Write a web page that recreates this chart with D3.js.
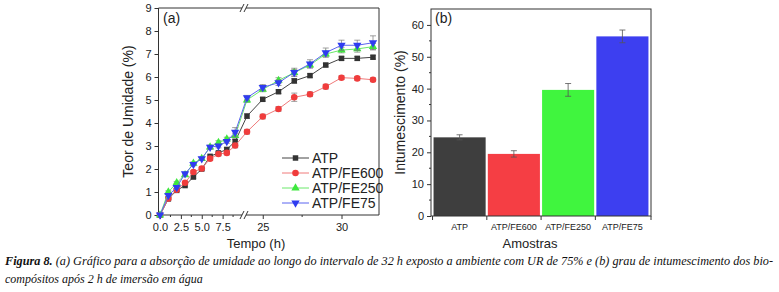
<!DOCTYPE html>
<html lang="pt">
<head>
<meta charset="utf-8">
<title>Figura 8</title>
<script src="https://d3js.org/d3.v7.min.js"></script>
<style>
  body { margin: 0; background: #fff; }
  svg text { font-family: "Liberation Sans", Arial, sans-serif; fill: #222; }
  .tick text { font-size: 11px; }
  .tick line, .axis path { stroke: #333; }
  .caption text { font-family: "Liberation Serif", "Times New Roman", serif; font-style: italic; font-size: 12px; fill: #111; }
</style>
</head>
<body>
<svg id="fig" width="779" height="292"></svg>
<script>
// (a) moisture uptake, hours
const hours = [0, 1, 2, 3, 4, 5, 6, 7, 8, 9, 24, 25, 26, 27, 28, 29, 30, 31, 32];
const atp    = [0, 0.70, 1.07, 1.28, 1.65, 2.00, 2.55, 2.70, 2.85, 3.20, 4.30, 5.03, 5.36, 5.83, 6.06, 6.52, 6.81, 6.81, 6.86];
const fe600  = [0, 0.72, 1.10, 1.40, 1.87, 2.02, 2.45, 2.65, 2.70, 3.02, 3.62, 4.28, 4.61, 5.12, 5.25, 5.58, 5.97, 5.94, 5.88];
const fe250  = [0, 1.00, 1.40, 1.75, 2.25, 2.45, 2.95, 3.15, 3.30, 3.45, 5.00, 5.46, 5.85, 6.19, 6.52, 7.00, 7.17, 7.22, 7.32];
const fe75   = [0, 0.85, 1.20, 1.80, 2.20, 2.45, 2.95, 3.00, 3.20, 3.60, 5.10, 5.55, 5.75, 6.20, 6.57, 7.06, 7.38, 7.38, 7.49];
const errA   = [0, 0.05, 0.05, 0.05, 0.05, 0.06, 0.06, 0.06, 0.08, 0.08, 0.10, 0.08, 0.08, 0.10, 0.08, 0.08, 0.08, 0.08, 0.08];
const errB   = [0, 0.05, 0.05, 0.06, 0.06, 0.06, 0.08, 0.08, 0.08, 0.10, 0.10, 0.10, 0.10, 0.18, 0.10, 0.10, 0.08, 0.08, 0.08];
const errC   = [0, 0.05, 0.05, 0.06, 0.06, 0.06, 0.08, 0.08, 0.08, 0.10, 0.10, 0.10, 0.12, 0.14, 0.12, 0.12, 0.12, 0.14, 0.14];
const errD   = [0, 0.05, 0.05, 0.06, 0.06, 0.06, 0.08, 0.08, 0.08, 0.20, 0.10, 0.12, 0.12, 0.18, 0.18, 0.20, 0.22, 0.22, 0.30];
const seriesNames  = ["ATP", "ATP/FE600", "ATP/FE250", "ATP/FE75"];
const seriesColors = ["#333333", "#f03c3c", "#3ee83e", "#2f3cf0"];
const lineColors   = ["#444444", "#f07a7a", "#6be86b", "#5a64f0"];
const markers      = ["square", "circle", "triangle", "triangleDown"];

// (b) swelling after 2 h
const samples  = ["ATP", "ATP/FE600", "ATP/FE250", "ATP/FE75"];
const swelling = [24.7, 19.5, 39.6, 56.4];
const swellErr = [0.8, 1.0, 2.0, 2.0];
const barColors = ["#3e3e3e", "#f53e44", "#40f53e", "#3d3ff0"];

const svg = d3.select("#fig");

// ---------- panel (a) ----------
const aLeft = 158.5, aRight = 379, aTop = 8, aBottom = 215, brk = 244;
const y = d3.scaleLinear().domain([0, 9]).range([aBottom, aTop]);
const x1 = d3.scaleLinear().domain([0, 10]).range([160, 243.5]);
const x2 = d3.scaleLinear().domain([24, 32]).range([247, 373]);
const x = h => h <= 12 ? x1(h) : x2(h);

const ga = svg.append("g");

// frame: left, top, right, bottom (with break)
ga.append("line").attr("x1", aLeft).attr("x2", aLeft).attr("y1", aTop).attr("y2", aBottom).attr("stroke", "#333");
ga.append("line").attr("x1", aRight).attr("x2", aRight).attr("y1", aTop).attr("y2", aBottom).attr("stroke", "#333");
[aTop, aBottom].forEach(yy => {
  ga.append("line").attr("x1", aLeft).attr("x2", brk - 2).attr("y1", yy).attr("y2", yy).attr("stroke", "#333");
  ga.append("line").attr("x1", brk + 2).attr("x2", aRight).attr("y1", yy).attr("y2", yy).attr("stroke", "#333");
  [-2, 2].forEach(dx => {
    ga.append("line").attr("x1", brk + dx - 2).attr("x2", brk + dx + 2)
      .attr("y1", yy + 4).attr("y2", yy - 4).attr("stroke", "#333");
  });
});

const yAxisA = ga.append("g").attr("class", "axis")
  .attr("transform", `translate(${aLeft},0)`)
  .call(d3.axisLeft(y).ticks(9).tickSize(4).tickSizeOuter(0).tickPadding(3));
yAxisA.select(".domain").remove();

const xa1 = ga.append("g").attr("class", "axis")
  .attr("transform", `translate(0,${aBottom})`)
  .call(d3.axisBottom(x1).tickValues([0, 2.5, 5, 7.5]).tickFormat(d3.format(".1f")).tickSize(4).tickPadding(4));
xa1.select(".domain").remove();
const xa2 = ga.append("g").attr("class", "axis")
  .attr("transform", `translate(0,${aBottom})`)
  .call(d3.axisBottom(x2).tickValues([25, 30]).tickSize(4).tickPadding(4));
xa2.select(".domain").remove();
// minor ticks
ga.selectAll(".minx").data([1.25, 3.75, 6.25, 8.75].map(x1).concat([27.5, 32.5].map(x2)).filter(v => v < aRight))
  .join("line").attr("x1", d => d).attr("x2", d => d)
  .attr("y1", aBottom).attr("y2", aBottom + 2).attr("stroke", "#333");

const seriesData = [atp, fe600, fe250, fe75];
const errData = [errA, errB, errC, errD];

const line = d3.line().x((d, i) => x(hours[i])).y(d => y(d));

const symbolFor = m => ({
  square: d3.symbol().type(d3.symbolSquare).size(30),
  circle: d3.symbol().type(d3.symbolCircle).size(34),
  triangle: d3.symbol().type(d3.symbolTriangle).size(30),
  triangleDown: d3.symbol().type(d3.symbolTriangle).size(30)
})[m];

seriesData.forEach((vals, s) => {
  const g = ga.append("g");
  g.append("path").datum(vals).attr("d", line)
    .attr("fill", "none").attr("stroke", lineColors[s]).attr("stroke-width", 1);
  // error bars
  vals.forEach((v, i) => {
    const e = errData[s][i];
    if (!e) return;
    const cx = x(hours[i]);
    g.append("path")
      .attr("d", `M${cx},${y(v - e)}V${y(v + e)}M${cx - 3},${y(v - e)}H${cx + 3}M${cx - 3},${y(v + e)}H${cx + 3}`)
      .attr("stroke", "#777").attr("stroke-width", 0.7).attr("fill", "none");
  });
  g.selectAll(".m").data(vals).join("path")
    .attr("d", symbolFor(markers[s]))
    .attr("transform", (d, i) => `translate(${x(hours[i])},${y(d)})` + (markers[s] === "triangleDown" ? " rotate(180)" : ""))
    .attr("fill", seriesColors[s]);
});

// legend
seriesNames.forEach((n, s) => {
  const ly = 158 + s * 15;
  ga.append("line").attr("x1", 282).attr("x2", 309).attr("y1", ly).attr("y2", ly)
    .attr("stroke", lineColors[s]).attr("stroke-width", 1);
  ga.append("path").attr("d", symbolFor(markers[s]))
    .attr("transform", `translate(295.5,${ly})` + (markers[s] === "triangleDown" ? " rotate(180)" : ""))
    .attr("fill", seriesColors[s]);
  ga.append("text").attr("x", 312).attr("y", ly + 5).attr("font-size", 14).text(n);
});

ga.append("text").attr("x", 163).attr("y", 23).attr("font-size", 14).text("(a)");
ga.append("text").attr("x", 256).attr("y", 248).attr("text-anchor", "middle").attr("font-size", 13).text("Tempo (h)");
ga.append("text").attr("transform", `translate(133,${(aTop + aBottom) / 2}) rotate(-90)`)
  .attr("text-anchor", "middle").attr("font-size", 14).text("Teor de Umidade (%)");

// ---------- panel (b) ----------
const bLeft = 431, bRight = 651, bTop = 9, bBottom = 216;
const yb = d3.scaleLinear().domain([0, 65]).range([bBottom, bTop]);
const xb = d3.scaleBand().domain(samples).range([bLeft + 2, bRight - 2]).paddingInner(0.04).paddingOuter(0.01);

const gb = svg.append("g");

gb.selectAll(".bar").data(samples).join("rect")
  .attr("x", d => xb(d)).attr("width", xb.bandwidth())
  .attr("y", (d, i) => yb(swelling[i])).attr("height", (d, i) => bBottom - yb(swelling[i]))
  .attr("fill", (d, i) => barColors[i]);

samples.forEach((d, i) => {
  const cx = xb(d) + xb.bandwidth() / 2;
  const lo = yb(swelling[i] - swellErr[i]), hi = yb(swelling[i] + swellErr[i]);
  gb.append("path").attr("d", `M${cx},${lo}V${hi}M${cx - 3},${lo}H${cx + 3}M${cx - 3},${hi}H${cx + 3}`)
    .attr("stroke", "#555").attr("stroke-width", 0.8).attr("fill", "none");
});

gb.append("rect").attr("x", bLeft).attr("y", bTop).attr("width", bRight - bLeft).attr("height", bBottom - bTop)
  .attr("fill", "none").attr("stroke", "#333");

const yAxisB = gb.append("g").attr("class", "axis")
  .attr("transform", `translate(${bLeft},0)`)
  .call(d3.axisLeft(yb).tickValues([0, 10, 20, 30, 40, 50, 60]).tickSize(4).tickPadding(3));
yAxisB.select(".domain").remove();
gb.selectAll(".minb").data([5, 15, 25, 35, 45, 55]).join("line")
  .attr("x1", bLeft).attr("x2", bLeft - 2).attr("y1", d => yb(d)).attr("y2", d => yb(d)).attr("stroke", "#333");

const xAxisB = gb.append("g").attr("class", "axis")
  .attr("transform", `translate(0,${bBottom})`)
  .call(d3.axisBottom(xb).tickSize(0).tickPadding(8));
xAxisB.select(".domain").remove();
xAxisB.selectAll("text").style("font-size", "9px");
const edges = samples.map(d => xb(d) - 1).concat([bRight]);
gb.selectAll(".edge").data(edges).join("line")
  .attr("x1", d => d).attr("x2", d => d).attr("y1", bBottom).attr("y2", bBottom + 4).attr("stroke", "#333");

gb.append("text").attr("x", 435).attr("y", 23).attr("font-size", 14).text("(b)");
gb.append("text").attr("x", 530).attr("y", 248).attr("text-anchor", "middle").attr("font-size", 13).text("Amostras");
gb.append("text").attr("transform", `translate(405,${(bTop + bBottom) / 2}) rotate(-90)`)
  .attr("text-anchor", "middle").attr("font-size", 14).text("Intumescimento (%)");

// ---------- caption ----------
const cap = svg.append("g").attr("class", "caption");
const t1 = cap.append("text").attr("x", 5).attr("y", 265)
  .attr("textLength", 768).attr("lengthAdjust", "spacingAndGlyphs");
t1.append("tspan").attr("font-weight", "bold").text("Figura 8.");
t1.append("tspan").text(" (a) Gráfico para a absorção de umidade ao longo do intervalo de 32 h exposto a ambiente com UR de 75% e (b) grau de intumescimento dos bio-");
cap.append("text").attr("x", 5).attr("y", 283).text("compósitos após 2 h de imersão em água");
</script>
</body>
</html>
